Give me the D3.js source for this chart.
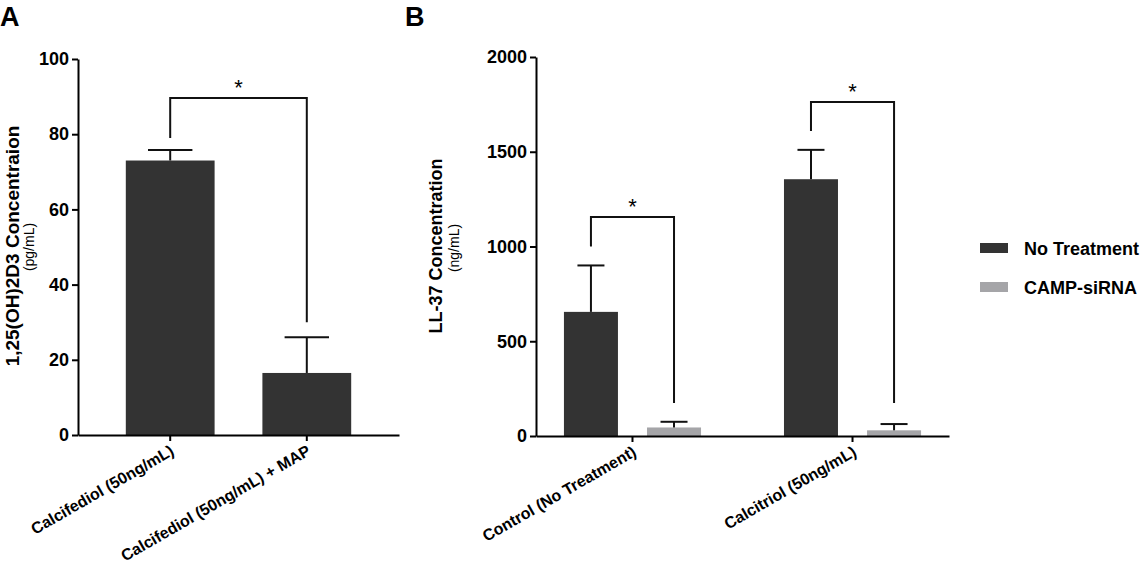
<!DOCTYPE html>
<html>
<head>
<meta charset="utf-8">
<script src="https://cdn.jsdelivr.net/npm/d3@7"></script>
<style>
  body { margin: 0; background: #fff; }
  svg text { font-family: "Liberation Sans", Arial, sans-serif; }
</style>
</head>
<body>
<div id="chart"></div>
<script>
// panel A
const catsA = ['Calcifediol (50ng/mL)', 'Calcifediol (50ng/mL) + MAP'];
const meansA = [73, 16.5];
const errA = [2.8, 9.5];
const ticksA = [0, 20, 40, 60, 80, 100];
// bracket: [left y, top y, right y] in data units
const bracketA = [79, 89.6, 30];

// panel B
const groupsB = ['Control (No Treatment)', 'Calcitriol (50ng/mL)'];
const seriesB = ['No Treatment', 'CAMP-siRNA'];
const noTreatment = [655, 1355];
const noTreatmentErr = [245, 155];
const campSiRNA = [45, 30];
const campSiRNAErr = [30, 33];
const ticksB = [0, 500, 1000, 1500, 2000];
const bracketsB = [[1000, 1156, 174], [1610, 1763, 174]];

const DARK = '#333333';
const GRAY = '#a5a5a8';
const W = 1145, H = 572;

const svg = d3.select('#chart').append('svg')
    .attr('width', W)
    .attr('height', H);

function styleAxis(g) {
    g.selectAll('path, line').attr('stroke', '#000').attr('stroke-width', 2);
    g.selectAll('text').attr('fill', '#000').style('font-weight', 'bold');
}

function errorBar(g, cx, yTop, yBase, half) {
    g.append('line').attr('x1', cx).attr('x2', cx).attr('y1', yTop).attr('y2', yBase)
        .attr('stroke', '#111').attr('stroke-width', 2);
    g.append('line').attr('x1', cx - half).attr('x2', cx + half).attr('y1', yTop).attr('y2', yTop)
        .attr('stroke', '#111').attr('stroke-width', 2);
}

function bracket(g, x1, x2, yL, yT, yR) {
    g.append('path')
        .attr('d', `M${x1},${yL}V${yT}H${x2}V${yR}`)
        .attr('fill', 'none').attr('stroke', '#111').attr('stroke-width', 2);
    g.append('text')
        .attr('x', (x1 + x2) / 2).attr('y', yT - 3)
        .attr('text-anchor', 'middle')
        .style('font-size', '22px')
        .text('*');
}

function rotateLabels(g) {
    g.selectAll('.tick text')
        .attr('text-anchor', 'end')
        .attr('x', 0).attr('y', 0).attr('dy', 0)
        .attr('transform', 'translate(5,19) rotate(-30)')
        .style('font-size', '16px');
}

// ---------- Panel A ----------
const xA = d3.scaleBand().domain(catsA).range([78, 399]).paddingInner(0.35).paddingOuter(0.35);
const yA = d3.scaleLinear().domain([0, 100]).range([435, 59]);

const gA = svg.append('g');

gA.selectAll('rect.bar')
    .data(catsA)
    .join('rect')
    .attr('class', 'bar')
    .attr('x', d => xA(d))
    .attr('width', xA.bandwidth())
    .attr('y', (d, i) => yA(meansA[i]))
    .attr('height', (d, i) => yA(0) - yA(meansA[i]))
    .attr('fill', DARK);

catsA.forEach((c, i) => {
    const cx = xA(c) + xA.bandwidth() / 2;
    errorBar(gA, cx, yA(meansA[i] + errA[i]), yA(meansA[i]), xA.bandwidth() / 4);
});

bracket(gA,
    xA(catsA[0]) + xA.bandwidth() / 2, xA(catsA[1]) + xA.bandwidth() / 2,
    yA(bracketA[0]), yA(bracketA[1]), yA(bracketA[2]));

gA.append('g')
    .attr('transform', `translate(78,0)`)
    .call(d3.axisLeft(yA).tickValues(ticksA).tickFormat(d3.format('d')).tickSize(6).tickSizeOuter(0).tickPadding(3))
    .call(styleAxis)
    .call(g => g.selectAll('text').style('font-size', '18px'));

gA.append('g')
    .attr('transform', `translate(0,435)`)
    .call(d3.axisBottom(xA).tickSize(6).tickSizeOuter(0))
    .call(styleAxis)
    .call(rotateLabels);

gA.append('text')
    .attr('transform', 'translate(19,246) rotate(-90)')
    .attr('text-anchor', 'middle')
    .style('font-size', '19px').style('font-weight', 'bold')
    .text('1,25(OH)2D3 Concentraion');
gA.append('text')
    .attr('transform', 'translate(34,247) rotate(-90)')
    .attr('text-anchor', 'middle')
    .style('font-size', '14px')
    .text('(pg/mL)');

svg.append('text').attr('x', 0).attr('y', 26)
    .style('font-size', '27px').style('font-weight', 'bold').text('A');

// ---------- Panel B ----------
const xB = d3.scaleBand().domain(groupsB).range([536, 949]).paddingInner(0.377).paddingOuter(0.127);
const xSub = d3.scaleBand().domain(seriesB).range([0, xB.bandwidth()]).paddingInner(0.35);
const yB = d3.scaleLinear().domain([0, 2000]).range([436, 57]);
const colorB = d3.scaleOrdinal().domain(seriesB).range([DARK, GRAY]);

const valuesB = [noTreatment, campSiRNA];
const errsB = [noTreatmentErr, campSiRNAErr];

const gB = svg.append('g');

groupsB.forEach((grp, gi) => {
    const g = gB.append('g').attr('transform', `translate(${xB(grp)},0)`);
    g.selectAll('rect')
        .data(seriesB)
        .join('rect')
        .attr('x', s => xSub(s))
        .attr('width', xSub.bandwidth())
        .attr('y', (s, si) => yB(valuesB[si][gi]))
        .attr('height', (s, si) => yB(0) - yB(valuesB[si][gi]))
        .attr('fill', s => colorB(s));
    seriesB.forEach((s, si) => {
        const cx = xSub(s) + xSub.bandwidth() / 2;
        errorBar(g, cx, yB(valuesB[si][gi] + errsB[si][gi]), yB(valuesB[si][gi]), xSub.bandwidth() / 4);
    });
    const br = bracketsB[gi];
    bracket(g,
        xSub(seriesB[0]) + xSub.bandwidth() / 2, xSub(seriesB[1]) + xSub.bandwidth() / 2,
        yB(br[0]), yB(br[1]), yB(br[2]));
});

gB.append('g')
    .attr('transform', `translate(536,0)`)
    .call(d3.axisLeft(yB).tickValues(ticksB).tickFormat(d3.format('d')).tickSize(6).tickSizeOuter(0).tickPadding(3))
    .call(styleAxis)
    .call(g => g.selectAll('text').style('font-size', '18px'));

gB.append('g')
    .attr('transform', `translate(0,436)`)
    .call(d3.axisBottom(xB).tickSize(6).tickSizeOuter(0))
    .call(styleAxis)
    .call(rotateLabels);

gB.append('text')
    .attr('transform', 'translate(442,246) rotate(-90)')
    .attr('text-anchor', 'middle')
    .style('font-size', '18px').style('font-weight', 'bold')
    .text('LL-37 Concentration');
gB.append('text')
    .attr('transform', 'translate(459,248) rotate(-90)')
    .attr('text-anchor', 'middle')
    .style('font-size', '14px')
    .text('(ng/mL)');

svg.append('text').attr('x', 405).attr('y', 26)
    .style('font-size', '27px').style('font-weight', 'bold').text('B');

// legend
const legend = svg.append('g').attr('transform', 'translate(980,243)');
seriesB.forEach((s, i) => {
    const row = legend.append('g').attr('transform', `translate(0,${i * 39})`);
    row.append('rect').attr('width', 28).attr('height', 10).attr('fill', colorB(s));
    row.append('text').attr('x', 44).attr('y', 12)
        .style('font-size', '18px').style('font-weight', 'bold')
        .text(s);
});
</script>
</body>
</html>
